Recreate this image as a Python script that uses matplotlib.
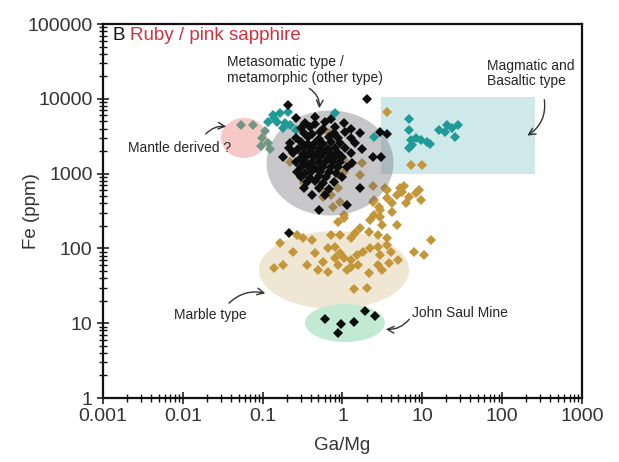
import numpy as np
import matplotlib
matplotlib.use("Agg")
import matplotlib.pyplot as plt
from matplotlib.ticker import LogLocator, FuncFormatter, NullFormatter

plt.rcParams['font.family'] = ['Liberation Sans', 'DejaVu Sans']

# Ga/Mg ratio and Fe (ppm) of analysed ruby / pink sapphire, one array per group
other_type = np.array([
    (0.265, 5540), (0.459, 5800), (0.708, 5300),
    (0.344, 4750), (0.459, 4600), (0.612, 4900), (1.03, 4700),
    (0.298, 4070), (0.397, 4200), (0.562, 3950), (0.817, 4150), (1.26, 4000),
    (0.325, 3490), (0.421, 3400), (0.530, 3600), (0.772, 3450), (1.09, 3550),
    (1.68, 3490), (2.91, 3600), (3.66, 3380),
    (0.258, 2990), (0.375, 3050), (0.501, 2900), (0.668, 3100), (0.891, 2950), (1.26, 3000),
    (0.223, 2570), (0.298, 2650), (0.375, 2500), (0.459, 2600), (0.562, 2520),
    (0.708, 2640), (0.944, 2550), (1.455, 2600),
    (0.211, 2200), (0.281, 2150), (0.344, 2250), (0.421, 2180), (0.530, 2230),
    (0.649, 2140), (0.817, 2210), (1.09, 2170), (1.78, 2120),
    (0.243, 1890), (0.316, 1850), (0.397, 1920), (0.486, 1870), (0.595, 1900),
    (0.728, 1840), (0.891, 1910), (1.26, 1880),
    (0.182, 1670), (0.298, 1640), (0.364, 1700), (0.446, 1650), (0.530, 1690),
    (0.668, 1630), (0.817, 1680), (1.0, 1660), (2.38, 1670), (3.08, 1650),
    (0.265, 1430), (0.334, 1460), (0.409, 1400), (0.501, 1440), (0.612, 1410),
    (0.750, 1450), (0.944, 1420), (1.33, 1390),
    (0.298, 1225), (0.375, 1250), (0.459, 1200), (0.562, 1240), (0.708, 1210),
    (0.891, 1235), (1.155, 1220),
    (0.273, 1050), (0.344, 1030), (0.421, 1070), (0.530, 1040), (0.668, 1060), (0.841, 1020),
    (0.298, 900), (0.397, 880), (0.501, 920), (0.630, 890), (1.0, 905),
    (0.364, 770), (0.459, 790), (0.578, 760), (0.772, 780),
    (0.325, 640), (0.501, 650), (0.668, 630), (1.68, 640),
    (0.421, 520), (0.612, 510),
    (1.155, 380), (0.501, 326),
    (0.205, 8260), (2.0, 9940), (0.211, 161),
])

john_saul = np.array([
    (0.612, 11.4), (0.97, 9.76), (0.866, 7.4), (1.41, 10.4), (1.89, 14.6), (2.59, 12.5),
])

magmatic = np.array([
    (0.133, 6070), (0.167, 6460), (0.205, 6660), (0.137, 5540), (0.115, 4900),
    (0.153, 4900), (0.193, 4750), (0.223, 4460), (0.182, 4070), (0.258, 3830),
    (0.817, 6460), (2.45, 3085),
    (6.89, 5370), (6.89, 3830), (7.3, 2810), (8.43, 2990), (9.74, 2810), (11.3, 2650),
    (12.3, 2490), (6.89, 2200), (7.51, 2410), (16.4, 3830), (20.1, 4460), (23.3, 4070),
    (27.7, 4460), (25.4, 3085), (19.0, 3600),
])

mantle = np.array([
    (0.0528, 4460), (0.0746, 4460), (0.1085, 3710), (0.0995, 2990),
    (0.118, 2570), (0.094, 2340), (0.125, 2130),
])

marble = np.array([
    (3.66, 6660), (7.3, 1300), (10.0, 1300),
    (0.668, 3490), (1.03, 1520), (0.649, 1300), (1.78, 1386), (1.03, 1050), (1.68, 958),
    (0.325, 749), (0.223, 1430), (0.562, 487), (0.708, 517), (0.866, 642), (2.45, 444),
    (3.36, 642), (1.03, 280), (2.91, 326), (0.866, 958), (0.612, 568), (0.944, 417), (0.75, 358),
    (3.66, 603), (4.75, 517), (5.63, 568), (6.89, 487), (8.43, 550), (9.74, 444),
    (6.32, 405), (4.23, 405), (3.56, 472), (2.83, 358), (2.38, 417), (9.19, 603),
    (5.18, 642), (2.38, 683), (5.96, 683),
    (1.03, 255), (0.866, 225), (2.24, 240), (2.91, 263), (4.23, 307), (4.75, 206),
    (3.17, 206), (2.45, 280),
    (1.68, 187), (2.12, 166), (2.75, 151), (3.56, 138), (1.26, 138), (0.944, 151),
    (0.708, 151), (1.455, 161),
    (0.273, 151), (0.316, 138), (0.421, 130), (0.167, 118), (0.243, 89.5), (0.459, 86.8),
    (0.649, 101),
    (0.817, 104), (0.944, 86.8), (1.03, 74.4), (0.817, 74.4), (1.26, 70), (1.54, 81.6),
    (1.83, 89.5), (2.24, 101), (2.75, 104), (3.66, 111), (2.91, 81.6), (4.11, 89.5),
    (4.89, 70), (3.17, 51.4), (3.88, 63.8),
    (0.578, 65.8), (0.891, 60), (1.26, 56.4), (1.586, 60), (1.155, 51.4), (0.649, 48.3),
    (0.5, 51.4), (0.364, 60), (0.182, 60), (0.137, 54.7), (2.745, 60), (2.12, 46.9),
    (1.41, 28.7), (2.0, 29.6), (7.96, 89.5), (10.6, 81.6), (13.0, 130),
])

x_ticks = [0.001, 0.01, 0.1, 1, 10, 100, 1000]
y_ticks = [1, 10, 100, 1000, 10000, 100000]

C_BLACK = "#0d0d0d"
C_TEAL = "#1f9a97"
C_GOLD = "#c3963a"
C_MANTLE = "#6f9784"
C_TEXT = "#262626"

fig = plt.figure(figsize=(6.19, 4.62), dpi=100)
ax = fig.add_axes([0.1664, 0.1385, 0.7738, 0.8095])
ax.set_xscale("log")
ax.set_yscale("log")
ax.set_xlim(1e-3, 1e3)
ax.set_ylim(1, 1e5)


def log_ellipse(cx, cy, rx, ry, **kw):
    """Filled ellipse defined in decades (log10 space)."""
    t = np.linspace(0, 2 * np.pi, 240)
    ax.fill(10 ** (cx + rx * np.cos(t)), 10 ** (cy + ry * np.sin(t)), lw=0, **kw)


# field outlines
log_ellipse(-1.234, 3.476, 0.288, 0.267, color="#f7c8c8", zorder=1)        # mantle derived
log_ellipse(-0.106, 1.711, 0.94, 0.52, color="#efe7d4", zorder=1)          # marble
log_ellipse(0.031, 1.003, 0.50, 0.254, color="#c2e9d2", zorder=1)          # John Saul
ax.fill([3, 260, 260, 3], [1000, 1000, 10500, 10500], color="#cfe8ea", lw=0, zorder=1)

mk = dict(marker="D", ms=4.8, ls="none", mew=0)
ax.plot(marble[:, 0], marble[:, 1], color=C_GOLD, zorder=2, **mk)

# metasomatic / metamorphic field, shading the points beneath it
log_ellipse(-0.156, 3.142, 0.795, 0.702, color="#6e6e76", alpha=0.38, zorder=3)

ax.plot(mantle[:, 0], mantle[:, 1], color=C_MANTLE, zorder=4, **mk)
ax.plot(magmatic[:, 0], magmatic[:, 1], color=C_TEAL, zorder=4, **mk)
ax.plot(other_type[:, 0], other_type[:, 1], color=C_BLACK, zorder=5, **mk)
ax.plot(john_saul[:, 0], john_saul[:, 1], color=C_BLACK, zorder=5, **mk)

# axes styling
for s in ax.spines.values():
    s.set_linewidth(1.6)
    s.set_color("#111111")
ax.xaxis.set_minor_locator(LogLocator(base=10, subs=np.arange(2, 10), numticks=20))
ax.yaxis.set_minor_locator(LogLocator(base=10, subs=np.arange(2, 10), numticks=20))
fmt = FuncFormatter(lambda v, _: f"{v:g}")
ax.set_xticks(x_ticks)
ax.set_yticks(y_ticks)
ax.xaxis.set_major_formatter(fmt)
ax.yaxis.set_major_formatter(fmt)
ax.xaxis.set_minor_formatter(NullFormatter())
ax.yaxis.set_minor_formatter(NullFormatter())
ax.tick_params(which="major", direction="inout", length=9, width=1.1, color="#111111",
               labelsize=14, labelcolor="#333333", pad=3, top=False, right=False)
ax.tick_params(which="minor", direction="inout", length=6, width=1.0, color="#111111",
               top=False, right=False)
ax.set_xlabel("Ga/Mg", fontsize=13.5, color="#333333")
ax.set_ylabel("Fe (ppm)", fontsize=13.5, color="#333333")
ax.xaxis.set_label_coords(0.5, -0.105)
ax.yaxis.set_label_coords(-0.131, 0.5)

# panel title
ax.text(0.0013, 69200, "B", fontsize=13.5, color="#111111", va="center", ha="left", zorder=6)
ax.text(0.00218, 69200, "Ruby / pink sapphire", fontsize=13.5, color="#d7303c",
        va="center", ha="left", zorder=6)

# field labels with curved pointers
arrow = dict(arrowstyle="->", color="#333333", lw=1.0, mutation_scale=12)
tk = dict(fontsize=10, color=C_TEXT, ha="left", va="center", zorder=6, linespacing=1.15)

ax.text(0.0358, 24300, "Metasomatic type /\nmetamorphic (other type)", **tk)
ax.annotate("", xy=(0.508, 6870), xytext=(0.359, 14400),
            arrowprops=dict(connectionstyle="arc3,rad=-0.35", **arrow), zorder=6)

ax.text(0.00206, 2200, "Mantle derived ?", **tk)
ax.annotate("", xy=(0.0379, 4200), xytext=(0.0184, 3180),
            arrowprops=dict(connectionstyle="arc3,rad=-0.3", **arrow), zorder=6)

ax.text(64.6, 21800, "Magmatic and\nBasaltic type", **tk)
ax.annotate("", xy=(193, 3087), xytext=(334, 10570),
            arrowprops=dict(connectionstyle="arc3,rad=-0.35", **arrow), zorder=6)

ax.text(0.00775, 12.9, "Marble type", **tk)
ax.annotate("", xy=(0.1167, 24.6), xytext=(0.0358, 17.5),
            arrowprops=dict(connectionstyle="arc3,rad=-0.3", **arrow), zorder=6)

ax.text(7.43, 13.7, "John Saul Mine", **tk)
ax.annotate("", xy=(3.22, 8.37), xytext=(7.21, 12.1),
            arrowprops=dict(connectionstyle="arc3,rad=-0.3", **arrow), zorder=6)

fig.savefig("out.png", dpi=100)
